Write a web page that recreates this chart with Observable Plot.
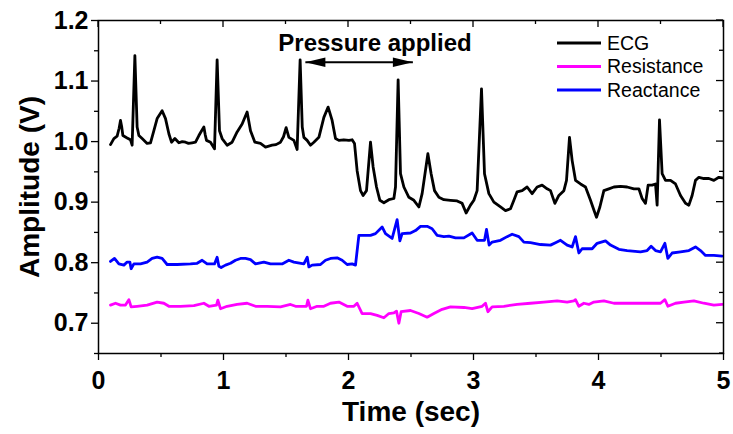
<!DOCTYPE html>
<html><head><meta charset="utf-8">
<script src="https://cdn.jsdelivr.net/npm/d3@7"></script>
<script src="https://cdn.jsdelivr.net/npm/@observablehq/plot@0.6"></script>
<style>body{margin:0;background:#fff} #chart svg{display:block}</style>
</head><body><div id="chart"></div>
<script>
// ---- data (time in s, amplitude in V) ----
const ecg = [[0.096,0.995],[0.123,1.005],[0.149,1.009],[0.165,1.022],[0.176,1.035],[0.186,1.024],[0.195,1.010],[0.229,1.006],[0.256,1.003],[0.269,0.994],[0.291,1.142],[0.309,1.024],[0.323,1.010],[0.349,1.005],[0.389,0.997],[0.416,0.998],[0.443,1.018],[0.469,1.038],[0.509,1.051],[0.536,1.038],[0.563,1.013],[0.584,0.999],[0.611,1.005],[0.643,0.998],[0.670,1.000],[0.696,0.999],[0.720,0.997],[0.749,0.998],[0.776,0.999],[0.803,1.010],[0.825,1.018],[0.843,1.024],[0.853,1.012],[0.864,1.002],[0.896,0.999],[0.928,0.988],[0.949,1.135],[0.968,1.018],[0.989,1.005],[1.029,0.994],[1.069,0.999],[1.109,1.016],[1.149,1.029],[1.189,1.049],[1.216,1.018],[1.251,0.999],[1.296,0.997],[1.336,0.991],[1.389,0.994],[1.420,0.995],[1.456,0.999],[1.480,1.008],[1.501,1.023],[1.523,1.007],[1.563,1.002],[1.589,0.987],[1.613,1.135],[1.630,1.024],[1.643,1.007],[1.669,1.002],[1.696,0.994],[1.723,0.999],[1.763,1.007],[1.803,1.040],[1.837,1.057],[1.869,1.035],[1.896,1.005],[1.923,1.002],[1.963,1.003],[2.003,1.002],[2.029,1.003],[2.048,0.997],[2.069,0.952],[2.096,0.919],[2.117,0.911],[2.144,0.919],[2.176,0.999],[2.197,0.958],[2.224,0.925],[2.251,0.903],[2.283,0.899],[2.323,0.904],[2.363,0.906],[2.376,0.925],[2.397,1.102],[2.416,0.947],[2.443,0.925],[2.483,0.908],[2.523,0.903],[2.563,0.892],[2.589,0.914],[2.635,0.980],[2.661,0.947],[2.688,0.919],[2.723,0.908],[2.763,0.904],[2.816,0.903],[2.869,0.902],[2.909,0.898],[2.941,0.882],[2.976,0.895],[3.003,0.903],[3.029,0.919],[3.064,1.087],[3.088,0.947],[3.123,0.914],[3.163,0.900],[3.216,0.892],[3.256,0.886],[3.296,0.889],[3.323,0.903],[3.349,0.917],[3.389,0.919],[3.429,0.925],[3.469,0.914],[3.509,0.925],[3.549,0.928],[3.589,0.922],[3.616,0.919],[3.651,0.898],[3.683,0.911],[3.723,0.919],[3.744,0.936],[3.768,1.007],[3.789,0.969],[3.816,0.936],[3.856,0.930],[3.896,0.925],[3.936,0.903],[3.963,0.887],[3.984,0.875],[4.011,0.892],[4.043,0.919],[4.083,0.922],[4.123,0.925],[4.176,0.926],[4.229,0.925],[4.283,0.922],[4.323,0.922],[4.349,0.906],[4.376,0.898],[4.397,0.928],[4.429,0.928],[4.456,0.930],[4.469,0.895],[4.488,1.036],[4.509,0.947],[4.536,0.936],[4.576,0.936],[4.616,0.930],[4.656,0.911],[4.696,0.898],[4.723,0.895],[4.749,0.911],[4.776,0.936],[4.803,0.941],[4.843,0.939],[4.883,0.939],[4.923,0.936],[4.963,0.941],[4.992,0.940]];

const resistance = [[0.096,0.730],[0.136,0.733],[0.176,0.730],[0.216,0.730],[0.243,0.739],[0.261,0.727],[0.309,0.728],[0.389,0.730],[0.469,0.735],[0.523,0.733],[0.563,0.728],[0.656,0.728],[0.763,0.729],[0.843,0.733],[0.883,0.728],[0.944,0.730],[0.955,0.738],[0.976,0.724],[1.029,0.728],[1.109,0.731],[1.189,0.733],[1.256,0.728],[1.349,0.728],[1.456,0.727],[1.536,0.731],[1.576,0.728],[1.664,0.728],[1.675,0.738],[1.696,0.724],[1.749,0.728],[1.803,0.728],[1.856,0.733],[1.923,0.735],[1.989,0.728],[2.043,0.728],[2.069,0.733],[2.109,0.716],[2.176,0.716],[2.229,0.713],[2.283,0.709],[2.323,0.716],[2.363,0.717],[2.384,0.720],[2.403,0.700],[2.421,0.719],[2.496,0.721],[2.563,0.716],[2.629,0.710],[2.683,0.716],[2.749,0.723],[2.816,0.727],[2.923,0.726],[2.989,0.724],[3.069,0.728],[3.096,0.733],[3.115,0.719],[3.149,0.727],[3.243,0.728],[3.349,0.731],[3.456,0.733],[3.563,0.735],[3.669,0.737],[3.749,0.735],[3.803,0.737],[3.816,0.739],[3.843,0.728],[3.883,0.733],[3.923,0.731],[3.963,0.735],[4.043,0.737],[4.123,0.733],[4.203,0.733],[4.309,0.733],[4.416,0.733],[4.496,0.733],[4.531,0.739],[4.555,0.728],[4.616,0.733],[4.683,0.735],[4.763,0.737],[4.843,0.733],[4.923,0.730],[4.989,0.731]];

const reactance = [[0.096,0.802],[0.128,0.807],[0.163,0.798],[0.203,0.796],[0.229,0.801],[0.251,0.801],[0.261,0.790],[0.283,0.798],[0.336,0.798],[0.389,0.801],[0.429,0.807],[0.469,0.809],[0.509,0.807],[0.549,0.797],[0.629,0.797],[0.736,0.798],[0.789,0.799],[0.829,0.804],[0.869,0.798],[0.928,0.798],[0.949,0.809],[0.963,0.794],[0.981,0.792],[1.016,0.796],[1.056,0.799],[1.096,0.804],[1.136,0.807],[1.176,0.807],[1.216,0.805],[1.256,0.798],[1.323,0.801],[1.376,0.798],[1.429,0.798],[1.469,0.798],[1.523,0.804],[1.563,0.801],[1.643,0.798],[1.670,0.809],[1.683,0.793],[1.709,0.796],[1.776,0.797],[1.816,0.804],[1.856,0.807],[1.909,0.808],[1.949,0.804],[1.989,0.797],[2.029,0.798],[2.056,0.796],[2.083,0.845],[2.123,0.845],[2.176,0.845],[2.216,0.848],[2.269,0.859],[2.296,0.848],[2.349,0.840],[2.389,0.871],[2.411,0.836],[2.429,0.848],[2.496,0.849],[2.536,0.853],[2.576,0.860],[2.629,0.860],[2.669,0.856],[2.709,0.845],[2.763,0.843],[2.803,0.844],[2.856,0.841],[2.923,0.841],[2.989,0.849],[3.029,0.837],[3.088,0.837],[3.104,0.855],[3.125,0.829],[3.149,0.834],[3.216,0.837],[3.269,0.843],[3.309,0.847],[3.363,0.843],[3.403,0.834],[3.456,0.833],[3.536,0.830],[3.616,0.829],[3.656,0.833],[3.696,0.837],[3.749,0.829],[3.789,0.826],[3.816,0.843],[3.843,0.816],[3.869,0.823],[3.949,0.823],[3.989,0.832],[4.056,0.836],[4.096,0.829],[4.163,0.822],[4.229,0.820],[4.336,0.818],[4.389,0.820],[4.421,0.827],[4.456,0.820],[4.496,0.818],[4.531,0.832],[4.555,0.807],[4.589,0.816],[4.656,0.818],[4.723,0.820],[4.776,0.826],[4.816,0.820],[4.856,0.812],[4.923,0.812],[4.989,0.811]];

const seriesNames = ["ECG", "Resistance", "Reactance"];
const seriesColors = ["#000000", "#ff00ff", "#0000ff"];
const xMajorTicks = [0, 1, 2, 3, 4, 5];
const xMinorTicks = [0.5, 1.5, 2.5, 3.5, 4.5];
const yMajorTicks = [0.7, 0.8, 0.9, 1.0, 1.1, 1.2];
const yMinorTicks = [0.65, 0.75, 0.85, 0.95, 1.05, 1.15];
const annotationLabel = ["Pressure applied"];
const annotationAt = [2.212, 1.162];
const arrowFrom = [1.655];
const arrowTo = [2.515];
const arrowLevel = [1.131];

// ---- build table ----
const rows = [
  ...ecg.map(([t, v]) => ({series: "ECG", t, v})),
  ...resistance.map(([t, v]) => ({series: "Resistance", t, v})),
  ...reactance.map(([t, v]) => ({series: "Reactance", t, v}))
];
const arrowRows = arrowFrom.map((a, i) => ({a, b: arrowTo[i], y: arrowLevel[i]}));

const headRight = {draw(ctx) { ctx.moveTo(0, 0); ctx.lineTo(-20, -4.8); ctx.lineTo(-20, 4.8); ctx.closePath(); }};
const headLeft = {draw(ctx) { ctx.moveTo(0, 0); ctx.lineTo(20, -4.8); ctx.lineTo(20, 4.8); ctx.closePath(); }};

function innerTicks(index, scales, values, dims) {
  const {x, y} = scales;
  const top = dims.marginTop, right = dims.width - dims.marginRight;
  const g = d3.create("svg:g").attr("stroke", "black").attr("stroke-width", 1.3);
  for (const [ticks, len] of [[xMajorTicks, 7], [xMinorTicks, 4]])
    for (const t of ticks) g.append("line").attr("x1", x(t)).attr("x2", x(t)).attr("y1", top).attr("y2", top + len);
  for (const [ticks, len] of [[yMajorTicks, 7], [yMinorTicks, 4]])
    for (const v of ticks) g.append("line").attr("y1", y(v)).attr("y2", y(v)).attr("x1", right).attr("x2", right - len);
  return g.node();
}

function legend(index, scales, values, dims) {
  const x0 = dims.width - dims.marginRight - 166;
  const g = d3.create("svg:g");
  seriesNames.forEach((name, i) => {
    const yy = dims.marginTop + 23 + i * 23.5;
    g.append("line").attr("x1", x0).attr("x2", x0 + 44).attr("y1", yy).attr("y2", yy)
      .attr("stroke", seriesColors[i]).attr("stroke-width", 2.8);
    g.append("text").attr("x", x0 + 50).attr("y", yy).attr("dy", "0.35em")
      .attr("text-anchor", "start").attr("font-size", 19.5).attr("fill", "black").text(name);
  });
  return g.node();
}

const chart = Plot.plot({
  width: 733,
  height: 434,
  marginLeft: 98,
  marginRight: 10,
  marginTop: 20,
  marginBottom: 81,
  style: {fontFamily: "'Liberation Sans', Arial, sans-serif", background: "#fff", color: "#000"},
  x: {domain: [0, 5]},
  y: {domain: [0.65, 1.2]},
  color: {domain: seriesNames, range: seriesColors},
  marks: [
    Plot.line(rows, {x: "t", y: "v", z: "series", stroke: "series", strokeWidth: 2.8, strokeLinejoin: "round", strokeLinecap: "round"}),
    Plot.axisX({anchor: "bottom", ticks: xMajorTicks, tickSize: 7, tickPadding: 11, tickFormat: d => String(d), fontSize: 25, fontWeight: "bold", label: null, strokeWidth: 1.3}),
    Plot.axisX({anchor: "bottom", ticks: xMinorTicks, tickSize: 4, tickFormat: () => "", label: null, strokeWidth: 1.3}),
    Plot.axisY({anchor: "left", ticks: yMajorTicks, tickSize: 7, tickPadding: 3, tickFormat: d3.format(".1f"), fontSize: 25, fontWeight: "bold", label: null, strokeWidth: 1.3}),
    Plot.axisY({anchor: "left", ticks: yMinorTicks, tickSize: 4, tickFormat: () => "", label: null, strokeWidth: 1.3}),
    innerTicks,
    Plot.frame({stroke: "black", strokeWidth: 1.5}),
    Plot.text(["Time (sec)"], {frameAnchor: "bottom", lineAnchor: "middle", textAnchor: "middle", dy: 59, fontSize: 28, fontWeight: "bold", fill: "black"}),
    Plot.text(["Amplitude (V)"], {frameAnchor: "left", textAnchor: "middle", lineAnchor: "middle", dx: -68, rotate: -90, fontSize: 28, fontWeight: "bold", fill: "black"}),
    Plot.text(annotationLabel, {x: () => annotationAt[0], y: () => annotationAt[1], fontSize: 24, fontWeight: "bold", fill: "black"}),
    Plot.link(arrowRows, {x1: "a", x2: "b", y1: "y", y2: "y", stroke: "black", strokeWidth: 2}),
    Plot.dot(arrowRows, {x: "b", y: "y", symbol: headRight, fill: "black", stroke: null}),
    Plot.dot(arrowRows, {x: "a", y: "y", symbol: headLeft, fill: "black", stroke: null}),
    legend
  ]
});
document.getElementById("chart").appendChild(chart);
</script>
</body></html>
